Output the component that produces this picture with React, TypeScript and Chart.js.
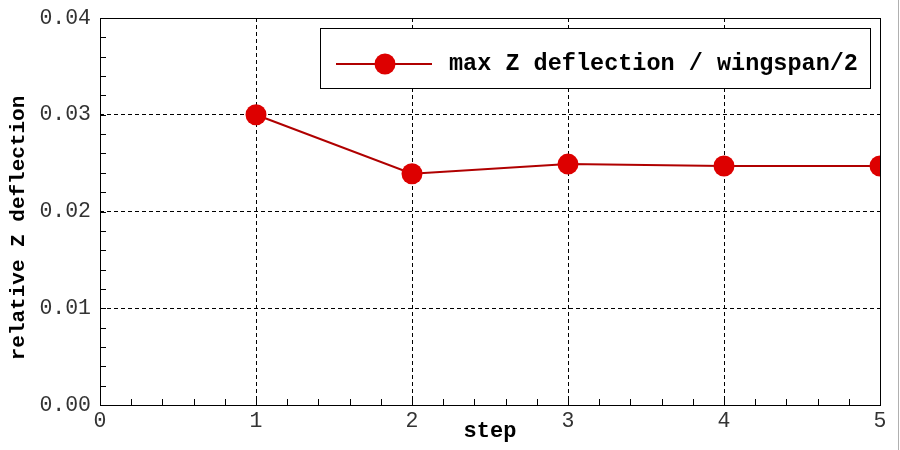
import React, { useEffect, useRef } from "react";
import { Chart, registerables } from "chart.js";

Chart.register(...registerables);

const steps = [1, 2, 3, 4, 5];
const deflection = [0.03, 0.0239, 0.0249, 0.0247, 0.0247];
const xTickValues = [0, 1, 2, 3, 4, 5];
const yTickValues = [0, 0.01, 0.02, 0.03, 0.04];
const xMinorStep = 0.2;
const yMinorStep = 0.002;
const seriesLabel = "max Z deflection / wingspan/2";
const xTitle = "step";
const yTitle = "relative Z deflection";

const LINE_COLOR = "#b00000";
const POINT_COLOR = "#dd0000";
const MONO = "'Liberation Mono', 'Courier New', monospace";

const framePlugin = {
  id: "frame",
  afterDatasetsDraw(chart: any) {
    const { ctx, chartArea, scales } = chart;
    const { left, right, top, bottom } = chartArea;
    ctx.save();
    ctx.strokeStyle = "#000";
    ctx.lineWidth = 1;
    ctx.beginPath();
    const xs = scales.x;
    const ys = scales.y;
    for (let i = 0; i * xMinorStep <= xs.max + 1e-9; i++) {
      const v = i * xMinorStep;
      const px = Math.round(xs.getPixelForValue(v)) + 0.5;
      ctx.moveTo(px, bottom);
      ctx.lineTo(px, bottom - 6);
    }
    for (let i = 0; i * yMinorStep <= ys.max + 1e-9; i++) {
      const v = i * yMinorStep;
      const py = Math.round(ys.getPixelForValue(v)) + 0.5;
      ctx.moveTo(left, py);
      ctx.lineTo(left + 6, py);
    }
    ctx.stroke();
    ctx.strokeRect(Math.round(left) + 0.5, Math.round(top) + 0.5, Math.round(right - left), Math.round(bottom - top));
    ctx.restore();
  },
  afterDraw(chart: any) {
    const { ctx, chartArea } = chart;
    ctx.save();
    ctx.font = `bold 21px ${MONO}`;
    ctx.fillStyle = "#000";
    ctx.textAlign = "center";
    ctx.textBaseline = "middle";
    ctx.translate(19, 228);
    ctx.rotate(-Math.PI / 2);
    ctx.fillText(yTitle, 0, 0);
    ctx.restore();

    ctx.save();
    const bx = chartArea.right - 560;
    const by = chartArea.top + 10;
    const bw = 550;
    const bh = 60;
    ctx.fillStyle = "#fff";
    ctx.fillRect(bx, by, bw, bh);
    ctx.strokeStyle = "#000";
    ctx.lineWidth = 1;
    ctx.strokeRect(Math.round(bx) + 0.5, Math.round(by) + 0.5, bw, bh);
    const cy = by + bh / 2 + 6;
    ctx.strokeStyle = LINE_COLOR;
    ctx.lineWidth = 2;
    ctx.beginPath();
    ctx.moveTo(bx + 16, cy);
    ctx.lineTo(bx + 112, cy);
    ctx.stroke();
    ctx.fillStyle = POINT_COLOR;
    ctx.beginPath();
    ctx.arc(bx + 65, cy, 10.5, 0, Math.PI * 2);
    ctx.fill();
    ctx.fillStyle = "#000";
    ctx.font = `bold 23.5px ${MONO}`;
    ctx.textAlign = "left";
    ctx.textBaseline = "middle";
    ctx.fillText(seriesLabel, bx + 129, cy);
    ctx.strokeStyle = "#b0b0b0";
    ctx.lineWidth = 1;
    ctx.beginPath();
    ctx.moveTo(898.5, 0);
    ctx.lineTo(898.5, chart.height);
    ctx.stroke();
    ctx.restore();
  },
};

export default function App() {
  const ref = useRef<HTMLCanvasElement | null>(null);
  useEffect(() => {
    if (!ref.current) return;
    const chart = new Chart(ref.current, {
      type: "line",
      data: {
        datasets: [
          {
            label: seriesLabel,
            data: steps.map((s, i) => ({ x: s, y: deflection[i] })),
            borderColor: LINE_COLOR,
            borderWidth: 2,
            backgroundColor: POINT_COLOR,
            pointBackgroundColor: POINT_COLOR,
            pointBorderColor: POINT_COLOR,
            pointBorderWidth: 0,
            pointRadius: 10.5,
            pointHoverRadius: 10.5,
            tension: 0,
          },
        ],
      },
      options: {
        responsive: false,
        animation: false,
        events: [],
        layout: { padding: { top: 18, right: 20, left: 0, bottom: 0 } },
        plugins: { legend: { display: false }, tooltip: { enabled: false } },
        scales: {
          x: {
            type: "linear",
            min: 0,
            max: 5,
            afterBuildTicks: (scale: any) => {
              scale.ticks = xTickValues.map((v) => ({ value: v }));
            },
            afterFit: (scale: any) => {
              scale.height = 45;
            },
            ticks: {
              autoSkip: false,
              maxRotation: 0,
              padding: 3,
              color: "#333",
              font: { family: MONO, size: 21.5 },
              callback: (v: any) => String(v),
            },
            grid: { color: "#000", drawTicks: false, lineWidth: 1 },
            border: { display: false, dash: [4, 3] },
            title: {
              display: true,
              text: xTitle,
              color: "#000",
              font: { family: MONO, size: 22, weight: "bold" },
              padding: { top: 0, bottom: 5 },
            },
          },
          y: {
            type: "linear",
            min: 0,
            max: 0.04,
            afterBuildTicks: (scale: any) => {
              scale.ticks = yTickValues.map((v) => ({ value: v }));
            },
            afterFit: (scale: any) => {
              scale.width = 100;
            },
            ticks: {
              autoSkip: false,
              padding: 0,
              color: "#333",
              font: { family: MONO, size: 21.5 },
              callback: (v: any) => Number(v).toFixed(2),
            },
            grid: {
              color: "#000",
              drawTicks: true,
              tickLength: 9,
              tickColor: "rgba(0,0,0,0)",
              lineWidth: 1,
            },
            border: { display: false, dash: [4, 3] },
          },
        },
      },
      plugins: [framePlugin],
    } as any);
    return () => chart.destroy();
  }, []);
  return (
    <div style={{ position: "fixed", left: 0, top: 0, width: 900, height: 450, background: "#fff" }}>
      <canvas ref={ref} width={900} height={450} style={{ display: "block" }} />
    </div>
  );
}
